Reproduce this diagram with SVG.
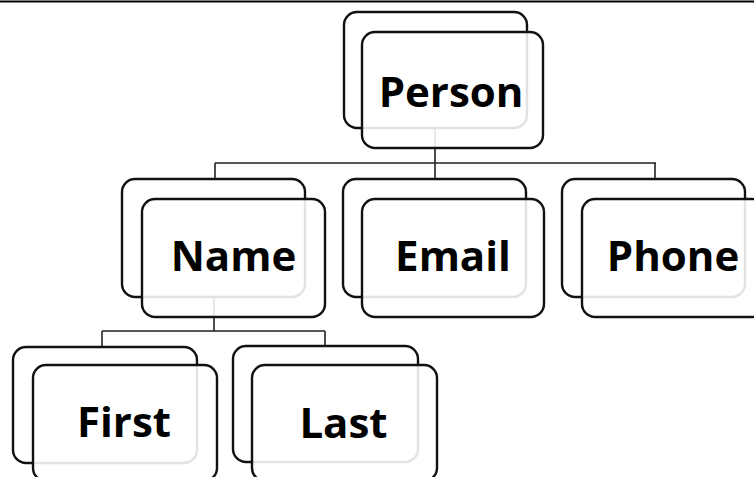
<svg xmlns="http://www.w3.org/2000/svg" width="754" height="477" viewBox="0 0 754 477">
<style>
.back{fill:#fff;stroke:#111;stroke-width:2.4}
.front{fill:#fff;fill-opacity:0.88;stroke:#111;stroke-width:2.4}
.lbl{font-family:"Open Sans","Liberation Sans",sans-serif;font-weight:bold;font-size:42px;fill:#000;text-anchor:middle}
.conn{fill:none;stroke:#222;stroke-width:1.6}
</style>
<rect width="754" height="477" fill="#fff"/>
<line x1="0" y1="1.5" x2="754" y2="1.5" stroke="#000" stroke-width="2"/>
<g id="connectors">
<path class="conn" d="M435,128 V163 M215,163 H656 M215,163 V179 M435,163 V179 M655,163 V179"/>
<path class="conn" d="M214,297 V331 M102,331 H325 M102,331 V347 M325,331 V347"/>
</g>
<g id="person">
<rect class="back" x="344" y="12" width="183" height="116" rx="13"/>
<rect class="front" x="362" y="32" width="181" height="116" rx="13"/>
<text class="lbl" x="451" y="107">Person</text>
</g>
<g id="name">
<rect class="back" x="122" y="179" width="183" height="118" rx="13"/>
<rect class="front" x="142" y="199" width="183" height="118" rx="13"/>
<text class="lbl" x="233.5" y="271">Name</text>
</g>
<g id="email">
<rect class="back" x="343" y="179" width="183" height="118" rx="13"/>
<rect class="front" x="362" y="199" width="182" height="118" rx="13"/>
<text class="lbl" x="453" y="271">Email</text>
</g>
<g id="phone">
<rect class="back" x="562" y="179" width="183" height="118" rx="13"/>
<rect class="front" x="582" y="199" width="183" height="118" rx="13"/>
<text class="lbl" x="673" y="271">Phone</text>
</g>
<g id="first">
<rect class="back" x="13" y="347" width="184" height="116" rx="13"/>
<rect class="front" x="33" y="365" width="184" height="116" rx="13"/>
<text class="lbl" x="124" y="437">First</text>
</g>
<g id="last">
<rect class="back" x="233" y="346" width="185" height="116" rx="13"/>
<rect class="front" x="252" y="365" width="185" height="116" rx="13"/>
<text class="lbl" x="343.5" y="438">Last</text>
</g>
</svg>
